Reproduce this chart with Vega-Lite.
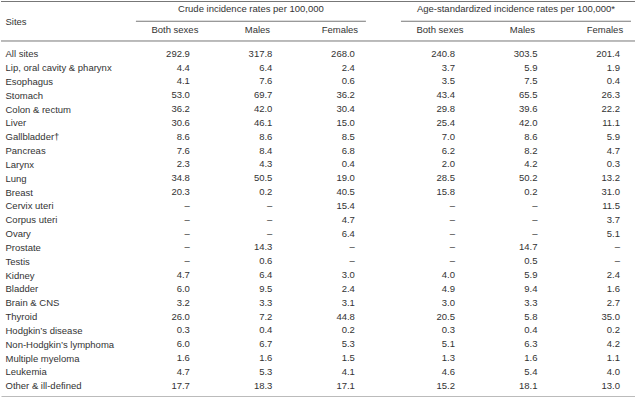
{
  "$schema": "https://vega.github.io/schema/vega-lite/v6.json",
  "padding": 0,
  "spacing": 0,
  "background": "white",
  "config": {
    "view": {"stroke": null},
    "font": "Liberation Sans",
    "text": {"fontSize": 9.5, "color": "#333333", "font": "Liberation Sans"},
    "axis": {"labelFont": "Liberation Sans", "labelFontSize": 9.5, "labelColor": "#333333", "grid": false}
  },
  "datasets": {
    "lines": [{"k": "top"}, {"k": "bot"}],
    "groups": [
      {"grp": "Crude", "label": "Crude incidence rates per 100,000"},
      {"grp": "Age", "label": "Age-standardized incidence rates per 100,000*"}
    ],
    "subheads": [
      {"grp": "Crude", "sex": "Both sexes"}, {"grp": "Crude", "sex": "Males"}, {"grp": "Crude", "sex": "Females"},
      {"grp": "Age", "sex": "Both sexes"}, {"grp": "Age", "sex": "Males"}, {"grp": "Age", "sex": "Females"}
    ],
    "cells": [
      {"site": "All sites", "grp": "Crude", "Both sexes": "292.9", "Males": "317.8", "Females": "268.0"},
      {"site": "All sites", "grp": "Age", "Both sexes": "240.8", "Males": "303.5", "Females": "201.4"},
      {"site": "Lip, oral cavity & pharynx", "grp": "Crude", "Both sexes": "4.4", "Males": "6.4", "Females": "2.4"},
      {"site": "Lip, oral cavity & pharynx", "grp": "Age", "Both sexes": "3.7", "Males": "5.9", "Females": "1.9"},
      {"site": "Esophagus", "grp": "Crude", "Both sexes": "4.1", "Males": "7.6", "Females": "0.6"},
      {"site": "Esophagus", "grp": "Age", "Both sexes": "3.5", "Males": "7.5", "Females": "0.4"},
      {"site": "Stomach", "grp": "Crude", "Both sexes": "53.0", "Males": "69.7", "Females": "36.2"},
      {"site": "Stomach", "grp": "Age", "Both sexes": "43.4", "Males": "65.5", "Females": "26.3"},
      {"site": "Colon & rectum", "grp": "Crude", "Both sexes": "36.2", "Males": "42.0", "Females": "30.4"},
      {"site": "Colon & rectum", "grp": "Age", "Both sexes": "29.8", "Males": "39.6", "Females": "22.2"},
      {"site": "Liver", "grp": "Crude", "Both sexes": "30.6", "Males": "46.1", "Females": "15.0"},
      {"site": "Liver", "grp": "Age", "Both sexes": "25.4", "Males": "42.0", "Females": "11.1"},
      {"site": "Gallbladder†", "grp": "Crude", "Both sexes": "8.6", "Males": "8.6", "Females": "8.5"},
      {"site": "Gallbladder†", "grp": "Age", "Both sexes": "7.0", "Males": "8.6", "Females": "5.9"},
      {"site": "Pancreas", "grp": "Crude", "Both sexes": "7.6", "Males": "8.4", "Females": "6.8"},
      {"site": "Pancreas", "grp": "Age", "Both sexes": "6.2", "Males": "8.2", "Females": "4.7"},
      {"site": "Larynx", "grp": "Crude", "Both sexes": "2.3", "Males": "4.3", "Females": "0.4"},
      {"site": "Larynx", "grp": "Age", "Both sexes": "2.0", "Males": "4.2", "Females": "0.3"},
      {"site": "Lung", "grp": "Crude", "Both sexes": "34.8", "Males": "50.5", "Females": "19.0"},
      {"site": "Lung", "grp": "Age", "Both sexes": "28.5", "Males": "50.2", "Females": "13.2"},
      {"site": "Breast", "grp": "Crude", "Both sexes": "20.3", "Males": "0.2", "Females": "40.5"},
      {"site": "Breast", "grp": "Age", "Both sexes": "15.8", "Males": "0.2", "Females": "31.0"},
      {"site": "Cervix uteri", "grp": "Crude", "Both sexes": "–", "Males": "–", "Females": "15.4"},
      {"site": "Cervix uteri", "grp": "Age", "Both sexes": "–", "Males": "–", "Females": "11.5"},
      {"site": "Corpus uteri", "grp": "Crude", "Both sexes": "–", "Males": "–", "Females": "4.7"},
      {"site": "Corpus uteri", "grp": "Age", "Both sexes": "–", "Males": "–", "Females": "3.7"},
      {"site": "Ovary", "grp": "Crude", "Both sexes": "–", "Males": "–", "Females": "6.4"},
      {"site": "Ovary", "grp": "Age", "Both sexes": "–", "Males": "–", "Females": "5.1"},
      {"site": "Prostate", "grp": "Crude", "Both sexes": "–", "Males": "14.3", "Females": "–"},
      {"site": "Prostate", "grp": "Age", "Both sexes": "–", "Males": "14.7", "Females": "–"},
      {"site": "Testis", "grp": "Crude", "Both sexes": "–", "Males": "0.6", "Females": "–"},
      {"site": "Testis", "grp": "Age", "Both sexes": "–", "Males": "0.5", "Females": "–"},
      {"site": "Kidney", "grp": "Crude", "Both sexes": "4.7", "Males": "6.4", "Females": "3.0"},
      {"site": "Kidney", "grp": "Age", "Both sexes": "4.0", "Males": "5.9", "Females": "2.4"},
      {"site": "Bladder", "grp": "Crude", "Both sexes": "6.0", "Males": "9.5", "Females": "2.4"},
      {"site": "Bladder", "grp": "Age", "Both sexes": "4.9", "Males": "9.4", "Females": "1.6"},
      {"site": "Brain & CNS", "grp": "Crude", "Both sexes": "3.2", "Males": "3.3", "Females": "3.1"},
      {"site": "Brain & CNS", "grp": "Age", "Both sexes": "3.0", "Males": "3.3", "Females": "2.7"},
      {"site": "Thyroid", "grp": "Crude", "Both sexes": "26.0", "Males": "7.2", "Females": "44.8"},
      {"site": "Thyroid", "grp": "Age", "Both sexes": "20.5", "Males": "5.8", "Females": "35.0"},
      {"site": "Hodgkin’s disease", "grp": "Crude", "Both sexes": "0.3", "Males": "0.4", "Females": "0.2"},
      {"site": "Hodgkin’s disease", "grp": "Age", "Both sexes": "0.3", "Males": "0.4", "Females": "0.2"},
      {"site": "Non-Hodgkin’s lymphoma", "grp": "Crude", "Both sexes": "6.0", "Males": "6.7", "Females": "5.3"},
      {"site": "Non-Hodgkin’s lymphoma", "grp": "Age", "Both sexes": "5.1", "Males": "6.3", "Females": "4.2"},
      {"site": "Multiple myeloma", "grp": "Crude", "Both sexes": "1.6", "Males": "1.6", "Females": "1.5"},
      {"site": "Multiple myeloma", "grp": "Age", "Both sexes": "1.3", "Males": "1.6", "Females": "1.1"},
      {"site": "Leukemia", "grp": "Crude", "Both sexes": "4.7", "Males": "5.3", "Females": "4.1"},
      {"site": "Leukemia", "grp": "Age", "Both sexes": "4.6", "Males": "5.4", "Females": "4.0"},
      {"site": "Other & ill-defined", "grp": "Crude", "Both sexes": "17.7", "Males": "18.3", "Females": "17.1"},
      {"site": "Other & ill-defined", "grp": "Age", "Both sexes": "15.2", "Males": "18.1", "Females": "13.0"}
    ]
  },
  "vconcat": [
    {
      "width": 635,
      "height": 42.5,
      "layer": [
        {
          "data": {"name": "lines"},
          "mark": {"type": "rule", "color": "#777777", "strokeWidth": 1},
          "encoding": {
            "y": {
              "field": "k", "type": "nominal",
              "scale": {"type": "point", "domain": ["top", "grp", "Sites", "sub", "bot"], "padding": 0.152},
              "axis": {"values": ["Sites"], "title": null, "domain": false, "ticks": false, "labelAlign": "left", "labelPadding": -4}
            }
          }
        },
        {
          "data": {"name": "groups"},
          "mark": {"type": "text", "dy": -2},
          "encoding": {
            "x": {"field": "grp", "type": "nominal", "scale": {"type": "band", "domain": ["Crude", "Age"], "paddingInner": 0.1321, "paddingOuter": 0.264, "align": 0.964}, "axis": null},
            "y": {"datum": "grp"},
            "text": {"field": "label"}
          }
        },
        {
          "data": {"name": "groups"},
          "mark": {"type": "tick", "orient": "horizontal", "size": 230, "thickness": 1, "color": "#777777", "opacity": 1},
          "encoding": {
            "x": {"field": "grp", "type": "nominal"},
            "y": {"datum": "Sites"}
          }
        },
        {
          "data": {"name": "subheads"},
          "mark": {"type": "text", "dy": -1},
          "encoding": {
            "x": {"field": "grp", "type": "nominal"},
            "xOffset": {"field": "sex", "type": "nominal", "scale": {"domain": ["Both sexes", "Males", "Females"], "range": [-2.25, 245.25]}},
            "y": {"datum": "sub"},
            "text": {"field": "sex"}
          }
        }
      ]
    },
    {
      "width": 635,
      "height": 353.5,
      "data": {"name": "cells"},
      "transform": [{"fold": ["Both sexes", "Males", "Females"], "as": ["sex", "v"]}],
      "mark": {"type": "text", "align": "right", "dx": 15},
      "encoding": {
        "x": {
          "field": "grp", "type": "nominal",
          "scale": {"type": "band", "domain": ["Crude", "Age"], "paddingInner": 0.1321, "paddingOuter": 0.264, "align": 0.964},
          "axis": {"orient": "bottom", "labels": false, "ticks": false, "title": null, "domainColor": "#777777", "domainWidth": 1}
        },
        "xOffset": {"field": "sex", "type": "nominal", "scale": {"domain": ["Both sexes", "Males", "Females"], "range": [-2.25, 245.25]}},
        "y": {
          "field": "site", "type": "nominal", "sort": null,
          "scale": {"type": "point", "padding": 0.78},
          "axis": {"title": null, "domain": false, "ticks": false, "labelAlign": "left", "labelPadding": -4}
        },
        "text": {"field": "v"}
      }
    }
  ]
}
